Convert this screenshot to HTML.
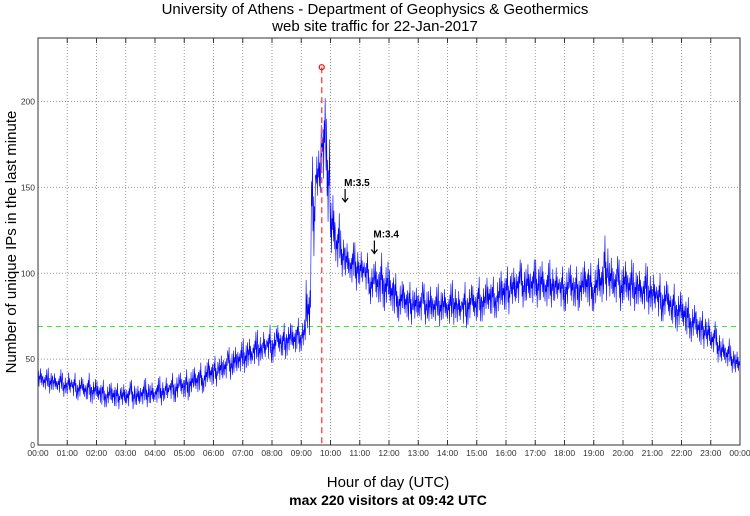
<!DOCTYPE html>
<html><head><meta charset="utf-8"><style>
body{margin:0;background:#fff;width:750px;height:511px;overflow:hidden;font-family:"Liberation Sans",sans-serif}
</style></head><body>
<svg id="chart" width="750" height="511" xmlns="http://www.w3.org/2000/svg" font-family="Liberation Sans, sans-serif">
<text x="375" y="14" font-size="15" text-anchor="middle">University of Athens - Department of Geophysics &amp; Geothermics</text>
<text x="375" y="31" font-size="15" text-anchor="middle">web site traffic for 22-Jan-2017</text>
<text transform="translate(16,242) rotate(-90)" font-size="15" text-anchor="middle">Number of unique IPs in the last minute</text>
<text x="388" y="487" font-size="15" text-anchor="middle">Hour of day (UTC)</text>
<text x="388" y="505" font-size="14" font-weight="bold" text-anchor="middle">max 220 visitors at 09:42 UTC</text>
<g id="grid"></g><g id="series"></g><g id="axes"></g>
</svg>
<script>
const hi=[46,44,45,43,44,42, 44,42,41,40,42,40, 39,38,37,38,36,37, 37,38,36,38,39,38, 39,40,41,42,43,44, 44,46,47,48,50,52, 52,54,55,57,59,60, 62,64,66,67,68,70, 70,72,71,73,72,74, 75,100,168,175,202,190, 150,135,125,120,118,118, 115,112,108,110,112,110, 105,100,98,96,95,94, 95,94,95,92,94,93, 94,96,92,95,96,95, 98,96,100,98,100,104, 104,106,108,106,108,108, 108,110,106,108,106,104, 106,108,104,106,110,106, 108,112,122,112,110,108, 110,108,106,104,106,104, 102,100,98,96,94,92, 90,86,84,80,78,76, 72,68,64,62,58,56];
const lo=[32,31,30,30,29,28, 27,27,26,25,25,24, 23,22,22,21,21,21, 21,21,21,22,22,22, 23,23,24,25,25,26, 26,28,29,30,31,33, 34,35,37,38,39,41, 42,43,45,46,47,48, 48,50,50,52,52,54, 55,60,110,140,150,130, 105,100,98,95,92,90, 90,88,82,80,80,78, 75,74,72,72,70,70, 70,70,68,70,69,70, 68,70,68,68,70,70, 72,72,74,74,74,76, 76,78,80,80,80,80, 80,80,78,80,80,78, 78,78,78,80,80,78, 78,80,84,82,80,78, 80,78,78,78,76,76, 74,72,72,70,68,66, 64,62,60,58,56,54, 52,48,46,44,42,40];
const yTicks=[0,50,100,150,200];
const xTickLabels=["00:00","01:00","02:00","03:00","04:00","05:00","06:00","07:00","08:00","09:00","10:00","11:00","12:00","13:00","14:00","15:00","16:00","17:00","18:00","19:00","20:00","21:00","22:00","23:00","00:00"];
const peakHour=9+42/60, peakValue=220, threshold=69;
const quakes=[{label:"M:3.5",hour:10.5,value:145},{label:"M:3.4",hour:11.5,value:115}];
const L=38,R=740,T=38,B=445,YMAX=237;
const x=h=>L+(R-L)*h/24, y=v=>B-(B-T)*v/YMAX;
const NS="http://www.w3.org/2000/svg";
function mk(p,t,a){const e=document.createElementNS(NS,t);for(const k in a)e.setAttribute(k,a[k]);p.appendChild(e);return e;}
const grid=document.getElementById('grid'),ser=document.getElementById('series'),ax=document.getElementById('axes');
xTickLabels.forEach((lab,i)=>{
 const g=mk(grid,'line',{x1:x(i),x2:x(i),y1:T,y2:B,stroke:'#999','stroke-dasharray':'1,2','stroke-width':1});
 
 
 const t=mk(ax,'text',{x:x(i),y:B+11,'font-size':8.5,'text-anchor':'middle',fill:'#333'});t.textContent=lab;
 
 
 mk(ax,'line',{x1:x(i),x2:x(i),y1:B,y2:B-5,stroke:'#333'});
 mk(ax,'line',{x1:x(i),x2:x(i),y1:T,y2:T+5,stroke:'#333'});
});
yTicks.forEach(v=>{
 const g=mk(grid,'line',{x1:L,x2:R,y1:y(v),y2:y(v),stroke:'#999','stroke-dasharray':'1,2'});
 
 
 const t=mk(ax,'text',{x:L-3,y:y(v)+3,'font-size':8.5,'text-anchor':'end',fill:'#333'});t.textContent=v;
 
 
});
const th=mk(ser,'line',{x1:L,x2:R,y1:y(threshold),y2:y(threshold),stroke:'#33ee33','stroke-dasharray':'5,4','stroke-width':1});


// fixed shape pattern of within-slot jitter (fractions of the slot's lo..hi range)
const pat=[0.35,0.8,0.15,0.6,0.45,0.9,0.3,0.7,0.2,0.55,0.4,0.65,0.1,0.75,0.5,1.0,0.25,0.6,0.0,0.5];
let pts=[];
const per=10;
for(let i=0;i<hi.length;i++){
 const h0=i/6;
 for(let k=0;k<per;k++){
  const f=pat[(k+i*7)%pat.length];
  pts.push(x(h0+k/(6*per)).toFixed(2)+','+y(lo[i]+(hi[i]-lo[i])*f).toFixed(2));
 }
}
const ln=mk(ser,'polyline',{points:pts.join(' '),fill:'none',stroke:'#0000ff','stroke-width':0.6});


const pl=mk(ser,'line',{x1:x(peakHour),x2:x(peakHour),y1:y(peakValue),y2:B,stroke:'#ff5555','stroke-dasharray':'6,4','stroke-width':1.5});


const pc=mk(ser,'circle',{cx:x(peakHour),cy:y(peakValue),r:2.5,fill:'none',stroke:'#ff0000','stroke-width':1.2});


quakes.forEach(q=>{
 const t=mk(ser,'text',{x:x(q.hour)-1,y:y(q.value)-10,'font-size':10,'font-weight':'bold'});t.textContent=q.label;
 
 
 const ax0=x(q.hour),ay=y(q.value);
 const a=mk(ser,'path',{d:`M${ax0},${ay-7}V${ay+6}M${ax0-3},${ay+2}L${ax0},${ay+6}L${ax0+3},${ay+2}`,fill:'none',stroke:'#000','stroke-width':1.2});
 
 
});
const fr=mk(ax,'rect',{x:L,y:T,width:R-L,height:B-T,fill:'none',stroke:'#333'});


</script>
</body></html>
